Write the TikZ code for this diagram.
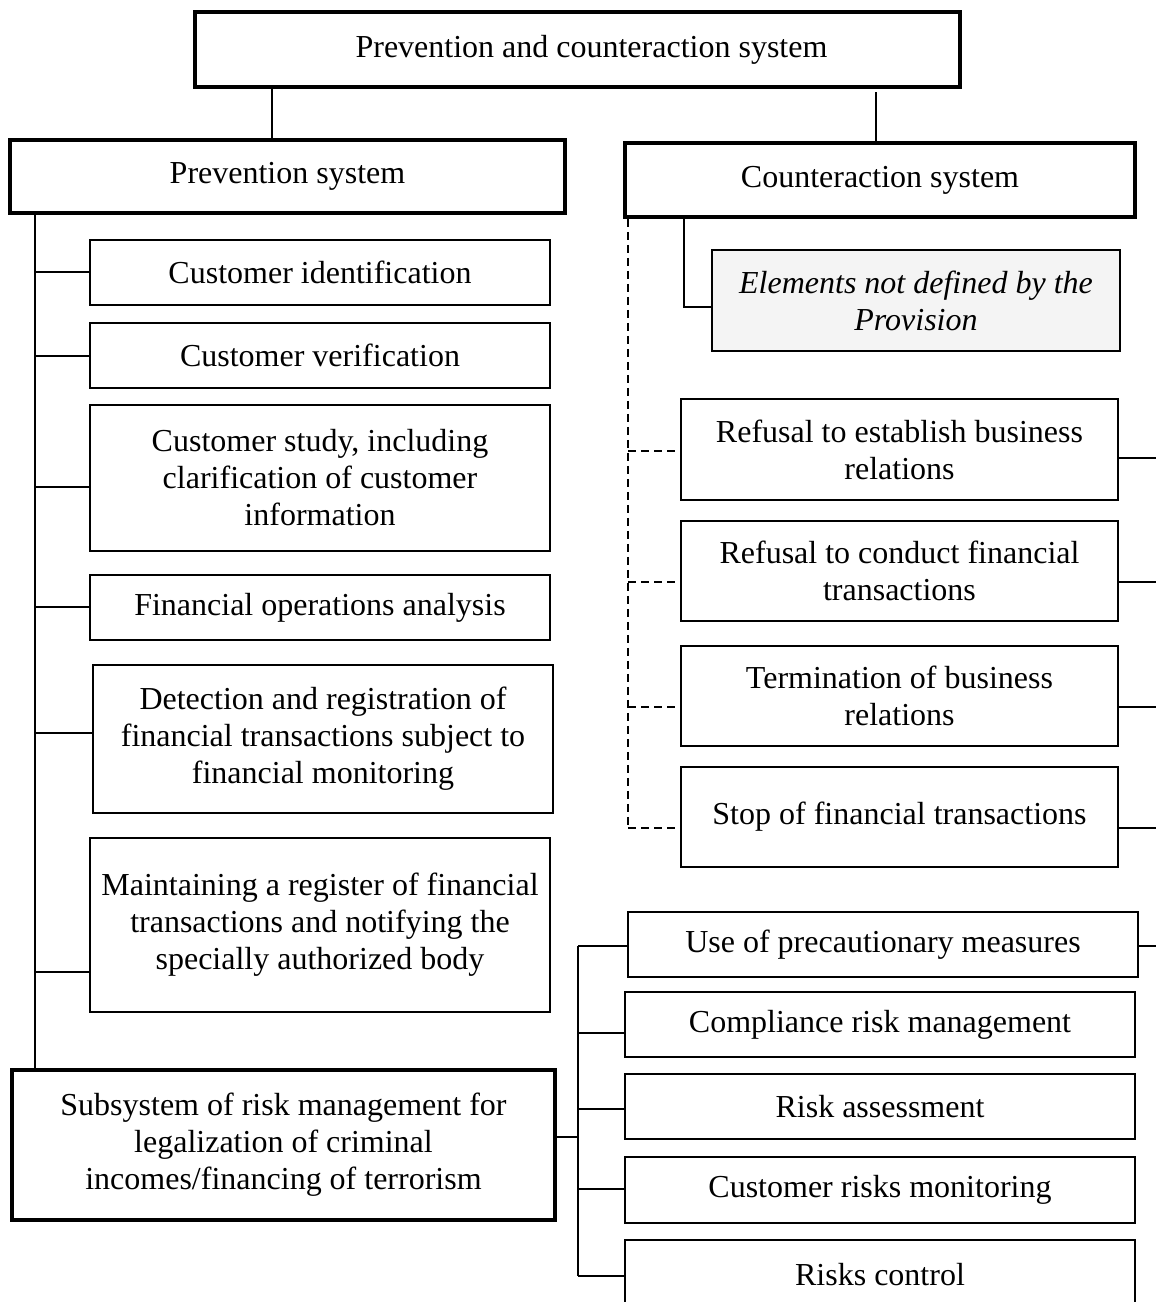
\documentclass[tikz,border=0pt]{standalone}
\usepackage{fontspec}
\setmainfont{Liberation Serif}
\begin{document}
\begin{tikzpicture}[x=0.5pt,y=-0.5pt,
  sz/.style 2 args={minimum width=#1*0.5pt, minimum height=#2*0.5pt},
  box/.style={draw, line width=1.2pt, inner sep=0pt, align=center, font=\fontsize{16}{18.5}\selectfont},
  tbox/.style={box, line width=1.9pt},
  ebox/.style={box, line width=0.8pt, fill=gray!9},
  conn/.style={line width=0.6pt},
  tconn/.style={line width=1.4pt},
  dconn/.style={line width=0.6pt, dash pattern=on 4pt off 2.5pt}
]
\useasboundingbox (0,0) rectangle (1156,1302);

% top level
\node[tbox, sz={765}{75}] (top) at (577.5,49.5) {\hspace{14pt}Prevention and counteraction system};
\node[tbox, sz={555}{73}] (prev) at (287.5,176.5) {Prevention system};
\node[tbox, sz={510}{74}] (counter) at (880,180) {Counteraction system};

% prevention children
\node[box, sz={460}{65}] (ci) at (320,272.5) {Customer identification};
\node[box, sz={460}{65}] (cv) at (320,355.5) {Customer verification};
\node[box, sz={460}{146}] (cs) at (320,478) {Customer study, including\\clarification of customer\\information};
\node[box, sz={460}{65}] (fo) at (320,607.5) {Financial operations analysis};
\node[box, sz={460}{148}] (dr) at (323,739) {Detection and registration of\\financial transactions subject to\\financial monitoring};
\node[box, sz={460}{174}] (mr) at (320,925) {Maintaining a register of financial\\transactions and notifying the\\specially authorized body};
\node[tbox, sz={543}{150}] (sub) at (283.5,1145) {Subsystem of risk management for\\legalization of criminal\\incomes/financing of terrorism};

% counteraction children
\node[ebox, sz={408}{101}] (el) at (916,300.5) {\itshape Elements not defined by the\\\itshape Provision};
\node[box, sz={437}{101}] (r1) at (899.5,449.5) {Refusal to establish business\\relations};
\node[box, sz={437}{100}] (r2) at (899.5,571) {Refusal to conduct financial\\transactions};
\node[box, sz={437}{100}] (r3) at (899.5,696) {Termination of business\\relations};
\node[box, sz={437}{100}] (r4) at (899.5,817) {Stop of financial transactions};

% risk subsystem children
\node[box, sz={510}{65}] (u1) at (883,944.5) {Use of precautionary measures};
\node[box, sz={510}{65}] (u2) at (880,1024.5) {Compliance risk management};
\node[box, sz={510}{65}] (u3) at (880,1106.5) {Risk assessment};
\node[box, sz={510}{66}] (u4) at (880,1190) {Customer risks monitoring};
\node[box, sz={510}{70}] (u5) at (880,1275) {Risks control};

% top connectors
\coordinate (tl) at (272,0);
\draw[tconn] (top.south -| tl) -- (prev.north -| tl);
\coordinate (trs) at (876,92);
\draw[tconn] (trs) -- (counter.north -| trs);

% left spine
\coordinate (ls) at (35,0);
\draw[conn] (prev.south -| ls) -- (sub.north -| ls);
\foreach \n/\yy in {ci/272, cv/356, cs/487, fo/607, dr/733, mr/972} {
  \coordinate (b\n) at (35,\yy);
  \draw[conn] (b\n) -- (b\n -| \n.west);
}

% elements elbow
\coordinate (ea) at (657,216);
\coordinate (eb) at (684,307);
\draw[line width=1.1pt] (ea) -| (eb) -- (eb -| el.west);

% dashed spine
\coordinate (ds) at (628,0);
\coordinate (dsb) at (628,827);
\draw[dconn] (counter.south -| ds) -- (dsb);
\foreach \n/\yy in {r1/451, r2/582, r3/707, r4/828} {
  \coordinate (d\n) at (628,\yy);
  \draw[dconn] (d\n) -- (d\n -| \n.west);
}

% right edge lines
\foreach \n/\yy in {r1/458, r2/582, r3/707, r4/828, u1/946} {
  \coordinate (e\n) at (1160,\yy);
  \draw[conn] (e\n -| \n.east) -- (e\n);
}

% risk bracket
\coordinate (rs) at (578,1137);
\draw[conn] (sub.east |- rs) -- (rs);
\foreach \n/\yy in {u1/946, u2/1033, u3/1109, u4/1189, u5/1276} {
  \coordinate (rb\n) at (578,\yy);
  \draw[conn] (rb\n) -- (rb\n -| \n.west);
}
\draw[conn] (rbu1) -- (rbu5);
\end{tikzpicture}
\end{document}
